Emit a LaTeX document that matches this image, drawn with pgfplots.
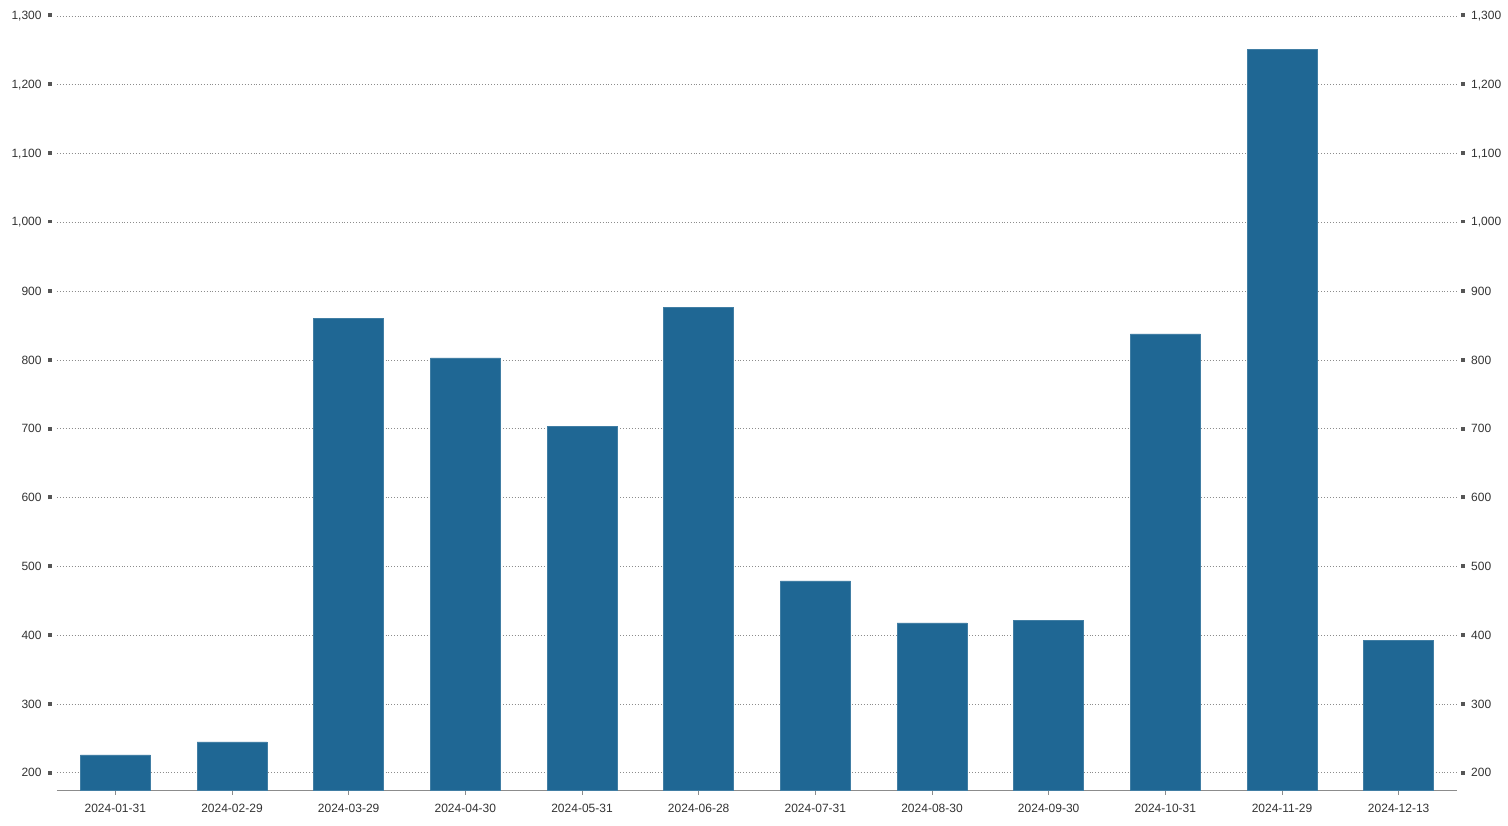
\documentclass[border=0pt]{standalone}
\usepackage{pgfplots}
\pgfplotsset{compat=1.18}
\usepackage{pgfplotstable}
\usepackage{fontspec}
\setmainfont{Liberation Sans}
\definecolor{barblue}{HTML}{1F6794}
\definecolor{txt}{HTML}{333333}
\definecolor{sq}{HTML}{555555}
\definecolor{axisgray}{HTML}{8C8C8C}
\pgfplotstableread{
x v label
0 226 2024-01-31
1 245 2024-02-29
2 860 2024-03-29
3 803 2024-04-30
4 703 2024-05-31
5 876 2024-06-28
6 479 2024-07-31
7 418 2024-08-30
8 422 2024-09-30
9 838 2024-10-31
10 1251 2024-11-29
11 393 2024-12-13
}\data
\pgfplotsset{base/.style={
  width=1050pt, height=580.5pt, scale only axis,
  xmin=-0.5, xmax=11.5, ymin=175, ymax=1300,
  ytick={200,300,...,1300},
  /pgf/number format/1000 sep={,},
  /pgf/number format/assume math mode=true,
  tick label style={font=\fontsize{9}{10}\selectfont, text=txt},
}}
\begin{document}
\begin{tikzpicture}
\begin{axis}[base,
  axis x line*=bottom, axis y line*=left,
  y axis line style={draw=none},
  x axis line style={axisgray, line width=0.6pt},
  ymajorgrids,
  major grid style={black!45, dash pattern=on 0.6pt off 1.6pt, line width=0.5pt},
  ytick style={draw=none},
  xtick=data,
  xticklabels from table={\data}{label},
  xtick style={axisgray, line width=0.6pt},
  tick align=outside, major tick length=3.5pt,
  yticklabel={\pgfmathprintnumber{\tick}\hspace{5pt}\textcolor{sq}{\rule[1.8pt]{2.9pt}{2.9pt}}},
  yticklabel style={anchor=east, inner sep=0pt, xshift=0pt},
  xticklabel style={yshift=-3.5pt},
]
\addplot[ybar, bar width=0.6, fill=barblue, draw=barblue!85!white, line width=0.4pt] table[x=x,y=v]{\data};
\end{axis}
\begin{axis}[base,
  axis y line*=right, axis x line=none,
  y axis line style={draw=none},
  ytick style={draw=none},
  yticklabel={\textcolor{sq}{\rule[1.8pt]{2.9pt}{2.9pt}}\hspace{5pt}\pgfmathprintnumber{\tick}},
  yticklabel style={anchor=west, inner sep=0pt, xshift=2.5pt},
]
\end{axis}
\pgfresetboundingbox
\useasboundingbox ([shift={(-42.75pt,-26.25pt)}]current axis.south west) rectangle ([shift={(38.25pt,12pt)}]current axis.north east);
\end{tikzpicture}
\end{document}
